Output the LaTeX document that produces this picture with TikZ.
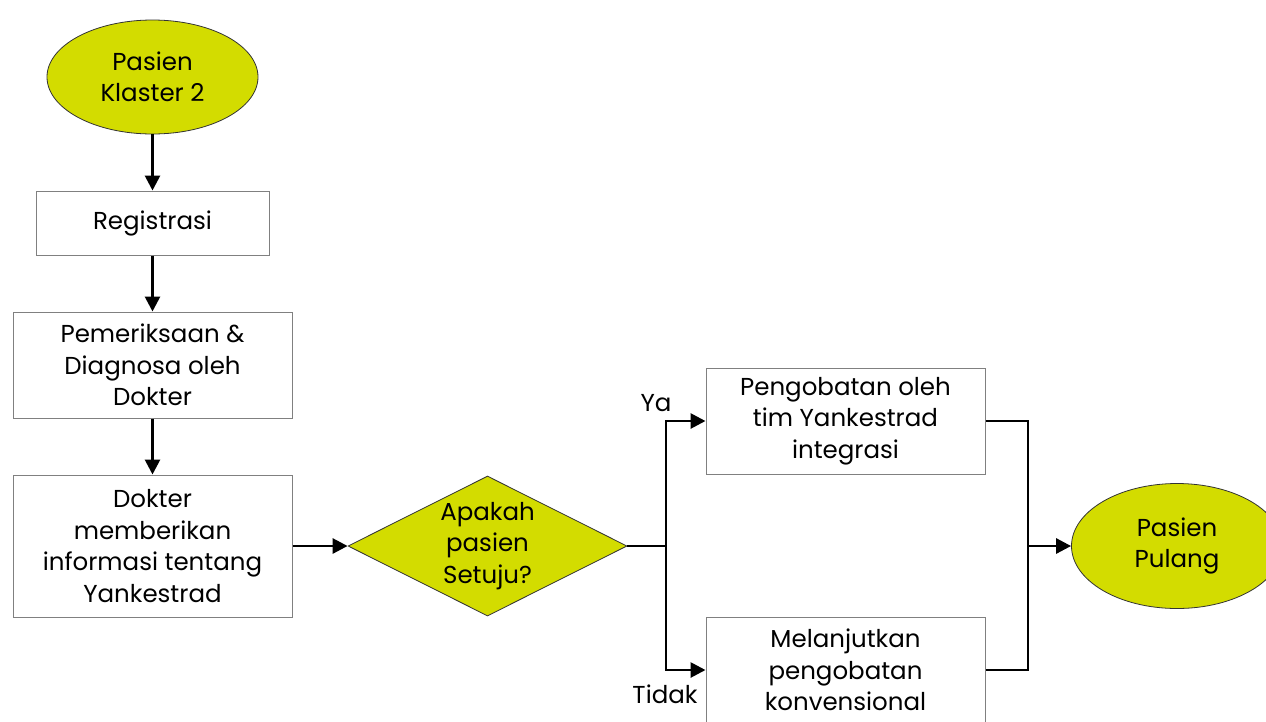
\documentclass[tikz,border=0pt]{standalone}
\usepackage{fontspec}
\setmainfont{Poppins}
\usetikzlibrary{shapes.geometric,arrows.meta}
\definecolor{klasterfill}{HTML}{D3DC00}

\begin{document}
\begin{tikzpicture}[x=1pt, y=-1pt,
    every node/.style={font=\fontsize{24.5}{31.5}\selectfont, align=center, inner sep=0pt},
    box/.style={rectangle, draw=gray, line width=1pt, minimum width=279pt, minimum height=106pt},
    terminal/.style={ellipse, draw=black!80, line width=0.8pt, fill=klasterfill, minimum width=211pt, minimum height=114pt},
    decision/.style={diamond, aspect=2, draw=black!80, line width=0.8pt, fill=klasterfill, minimum width=279pt, minimum height=140pt},
    line/.style={line width=2.8pt},
    flow/.style={line, -{Triangle[length=15pt,width=15pt]}}]
        \useasboundingbox (0,0) rectangle (1266,721);
        \node[terminal] (start) at (152.5,77) {Pasien\\Klaster 2};
        \node[box, minimum width=233pt, minimum height=64pt] (reg) at (152.5,223) {Registrasi};
        \node[box] (periksa) at (152.5,365) {Pemeriksaan \&\\Diagnosa oleh\\Dokter};
        \node[box, minimum height=142pt] (info) at (152.5,546) {Dokter\\memberikan\\informasi tentang\\Yankestrad};
        \node[decision] (setuju) at (487.5,546) {Apakah\\pasien\\Setuju?};
        \node[box] (yankes) at (845.5,421) {Pengobatan oleh\\tim Yankestrad\\integrasi};
        \node[box] (konv) at (845.5,670) {Melanjutkan\\pengobatan\\konvensional};
        \node[terminal, minimum height=125pt] (pulang) at (1177,546) {Pasien\\Pulang};
        \node (ya) at (656,403) {Ya};
        \node (tidak) at (665,694) {Tidak};
        \coordinate (split) at (666,546);
        \coordinate (join) at (1028,546);
        \draw[flow] (start) -- (reg);
        \draw[flow] (reg) -- (periksa);
        \draw[flow] (periksa) -- (info);
        \draw[flow] (info) -- (setuju);
        \draw[line] (setuju) -- (split);
        \draw[flow] (split) |- (yankes);
        \draw[flow] (split) |- (konv);
        \draw[line] (yankes) -| (join);
        \draw[line] (konv) -| (join);
        \draw[flow] (join) -- (pulang);
    \end{tikzpicture}
\end{document}
